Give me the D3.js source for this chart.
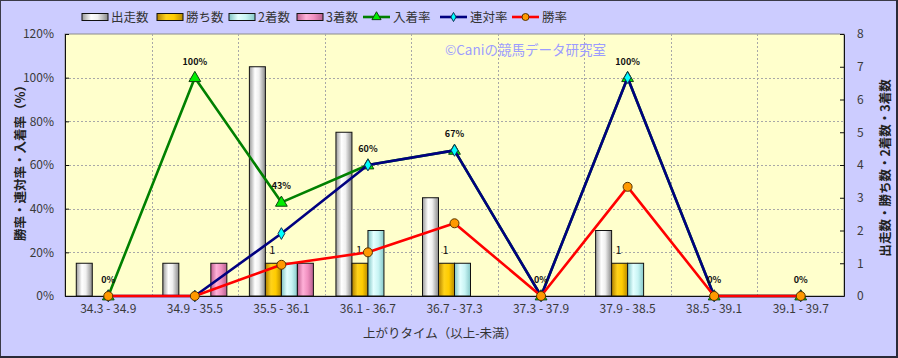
<!DOCTYPE html>
<html><head><meta charset="utf-8">
<script src="https://cdn.jsdelivr.net/npm/d3@7"></script>
<style>body{margin:0;background:#fff}svg{display:block}text{font-family:"Noto Sans CJK JP","DejaVu Sans",sans-serif}</style>
</head><body><svg id="c" width="898" height="358"></svg>
<script>
const categories = ["34.3 - 34.9","34.9 - 35.5","35.5 - 36.1","36.1 - 36.7","36.7 - 37.3","37.3 - 37.9","37.9 - 38.5","38.5 - 39.1","39.1 - 39.7"];
const runs   = [1,1,7,5,3,0,2,0,0];
const wins   = [0,0,1,1,1,0,1,0,0];
const second = [0,0,1,2,1,0,1,0,0];
const third  = [0,1,1,0,0,0,0,0,0];
const placeRate = [0,100,42.9,60,66.7,0,100,0,0];
const rentaiRate = [0,0,28.6,60,66.7,0,100,0,0];
const winRate = [0,0,14.3,20,33.3,0,50,0,0];
const placeLabels = ["0%","100%","43%","60%","67%","0%","100%","0%","0%"];
const leftTicks = [0,20,40,60,80,100,120];
const rightTicks = [0,1,2,3,4,5,6,7,8];

const svg = d3.select("#c");
const W=898,H=358, L=65, R=844, T=34, B=296;
svg.append("rect").attr("x",0.5).attr("y",0.5).attr("width",W-1.5).attr("height",H-1.5).attr("fill","#CCCCFF").attr("stroke","#3a3a48").attr("stroke-width",1);
svg.append("line").attr("x1",W-1).attr("x2",W-1).attr("y1",0).attr("y2",H).attr("stroke","#2a2a38").attr("stroke-width",2);
svg.append("line").attr("x1",0).attr("x2",W).attr("y1",H-1).attr("y2",H-1).attr("stroke","#2a2a38").attr("stroke-width",2);

const defs = svg.append("defs");
function grad(id, stops){
  const g = defs.append("linearGradient").attr("id",id).attr("x1","0%").attr("x2","100%").attr("y1","0%").attr("y2","0%");
  stops.forEach(s=>g.append("stop").attr("offset",s[0]).attr("stop-color",s[1]));
}
grad("gRun",[["0%","#9a9a9a"],["35%","#ffffff"],["60%","#f0f0f0"],["100%","#8a8a8a"]]);
grad("gWin",[["0%","#b08000"],["35%","#ffd21a"],["65%","#ffcc00"],["100%","#b88a00"]]);
grad("gSec",[["0%","#80c4c4"],["35%","#e4ffff"],["65%","#c8f4f4"],["100%","#86c8c8"]]);
grad("gThr",[["0%","#c06090"],["35%","#ffb0d8"],["65%","#f090c0"],["100%","#b86090"]]);

const x = d3.scaleBand().domain(categories).range([L,R]).padding(0);
const yL = d3.scaleLinear().domain([0,120]).range([B,T]);
const yR = d3.scaleLinear().domain([0,8]).range([B,T]);

svg.append("rect").attr("x",L).attr("y",T).attr("width",R-L).attr("height",B-T).attr("fill","#FFFFCC").attr("stroke","#8c8c8c");

// grid
const grid = svg.append("g").attr("stroke","#a8a8a8").attr("stroke-dasharray","2,2").attr("stroke-width",1);
leftTicks.filter(v=>v>0&&v<120).forEach(v=>grid.append("line").attr("x1",L).attr("x2",R).attr("y1",Math.round(yL(v))+0.5).attr("y2",Math.round(yL(v))+0.5));
categories.slice(1).forEach(c=>grid.append("line").attr("x1",Math.round(x(c))+0.5).attr("x2",Math.round(x(c))+0.5).attr("y1",T).attr("y2",B));

// axes
const axL = svg.append("g").attr("transform",`translate(${L},0)`).call(d3.axisLeft(yL).tickValues(leftTicks).tickFormat(d=>d+"%").tickSizeInner(-4).tickSizeOuter(0).tickPadding(11));
const axR = svg.append("g").attr("transform",`translate(${R},0)`).call(d3.axisRight(yR).tickValues(rightTicks).tickSizeInner(-4).tickSizeOuter(0).tickPadding(13));
const axB = svg.append("g").attr("transform",`translate(0,${B})`).call(d3.axisBottom(x).tickSize(0).tickPadding(8));
[axL,axR,axB].forEach(a=>{a.select(".domain").attr("stroke","#111");a.selectAll(".tick line").attr("stroke","#111");a.selectAll("text").attr("font-size",12).attr("fill","#3a3a3a").attr("font-family","'Noto Sans','DejaVu Sans',sans-serif");});

// bars
const bw = 16;
const series = [[runs,"gRun"],[wins,"gWin"],[second,"gSec"],[third,"gThr"]];
const barG = svg.append("g");
series.forEach((s,si)=>{
  barG.selectAll(null).data(s[0].map((v,i)=>({v,c:categories[i]})).filter(d=>d.v>0)).join("rect")
    .attr("x",d=>x(d.c)+x.bandwidth()/2-32+si*bw).attr("width",bw)
    .attr("y",d=>yR(d.v)).attr("height",d=>yR(0)-yR(d.v))
    .attr("fill",`url(#${s[1]})`).attr("stroke","#111").attr("stroke-width",1);
});
// win count labels
svg.append("g").selectAll(null).data(wins.map((v,i)=>({v,c:categories[i]})).filter(d=>d.v>0)).join("text")
  .attr("x",d=>x(d.c)+x.bandwidth()/2-16+bw/2-1).attr("y",d=>yR(d.v)-9)
  .attr("text-anchor","middle").attr("font-size",11).attr("fill","#111").attr("font-family","'DejaVu Sans',sans-serif").text(d=>d.v);

// watermark
svg.append("text").attr("x",445).attr("y",55).attr("font-size",13.5).attr("fill","#9c9cff").text("©Caniの競馬データ研究室");

const cx = c=>x(c)+x.bandwidth()/2;
function lineSeries(vals,color,marker,fill){
  const pts = vals.map((v,i)=>[cx(categories[i]),yL(v)]);
  svg.append("path").attr("d",d3.line()(pts)).attr("fill","none").attr("stroke",color).attr("stroke-width",2.6).attr("stroke-linejoin","round");
  const g = svg.append("g");
  pts.forEach(p=>{
    if(marker==="tri") g.append("path").attr("d",d3.symbol(d3.symbolTriangle,60)()).attr("transform",`translate(${p[0]},${p[1]+0.5})`).attr("fill",fill).attr("stroke","#114411").attr("stroke-width",1);
    else if(marker==="dia") g.append("path").attr("d",d3.symbol(d3.symbolDiamond,40)()).attr("transform",`translate(${p[0]},${p[1]})`).attr("fill",fill).attr("stroke","#113355").attr("stroke-width",1);
    else g.append("circle").attr("cx",p[0]).attr("cy",p[1]).attr("r",4.5).attr("fill",fill).attr("stroke","#553300").attr("stroke-width",1);
  });
}
lineSeries(placeRate,"#008000","tri","#00ee00");
lineSeries(rentaiRate,"#000080","dia","#00ffff");
lineSeries(winRate,"#ff0000","cir","#ff9900");

// place rate labels
svg.append("g").selectAll(null).data(placeRate.map((v,i)=>({v,c:categories[i],t:placeLabels[i]}))).join("text")
  .attr("x",d=>cx(d.c)).attr("y",d=>yL(d.v)-13).attr("text-anchor","middle")
  .attr("font-size",9).attr("font-weight","bold").attr("fill","#111").attr("font-family","'DejaVu Sans',sans-serif").text(d=>d.t);

// axis titles
svg.append("text").attr("transform","translate(25,160) rotate(-90)").attr("text-anchor","middle").attr("font-size",12.5).attr("font-weight","bold").attr("fill","#222").text("勝率・連対率・入着率（%）");
svg.append("text").attr("transform","translate(890,168) rotate(-90)").attr("text-anchor","middle").attr("font-size",12.5).attr("font-weight","bold").attr("fill","#222").text("出走数・勝ち数・2着数・3着数");
svg.append("text").attr("x",440).attr("y",338).attr("text-anchor","middle").attr("font-size",12.5).attr("fill","#333").text("上がりタイム（以上-未満）");

// legend
const lg = svg.append("g").attr("font-size",12.5).attr("fill","#333");
const boxItems = [["出走数","gRun",82],["勝ち数","gWin",157],["2着数","gSec",229],["3着数","gThr",297]];
boxItems.forEach(b=>{
  lg.append("rect").attr("x",b[2]).attr("y",13.5).attr("width",26).attr("height",7).attr("fill",`url(#${b[1]})`).attr("stroke","#111");
  lg.append("text").attr("x",b[2]+29).attr("y",22).text(b[0]);
});
const lineItems = [["入着率","#008000","tri","#00ee00",363],["連対率","#000080","dia","#00ffff",440],["勝率","#ff0000","cir","#ff9900",512]];
lineItems.forEach(b=>{
  lg.append("line").attr("x1",b[4]).attr("x2",b[4]+27).attr("y1",17).attr("y2",17).attr("stroke",b[1]).attr("stroke-width",2.6);
  const m=b[4]+13.5;
  if(b[2]==="tri") lg.append("path").attr("d",d3.symbol(d3.symbolTriangle,36)()).attr("transform",`translate(${m},17)`).attr("fill",b[3]).attr("stroke","#114411");
  else if(b[2]==="dia") lg.append("path").attr("d",d3.symbol(d3.symbolDiamond,24)()).attr("transform",`translate(${m},17)`).attr("fill",b[3]).attr("stroke","#113355");
  else lg.append("circle").attr("cx",m).attr("cy",17).attr("r",3.5).attr("fill",b[3]).attr("stroke","#553300");
  lg.append("text").attr("x",b[4]+30).attr("y",22).text(b[0]);
});
</script></body></html>
